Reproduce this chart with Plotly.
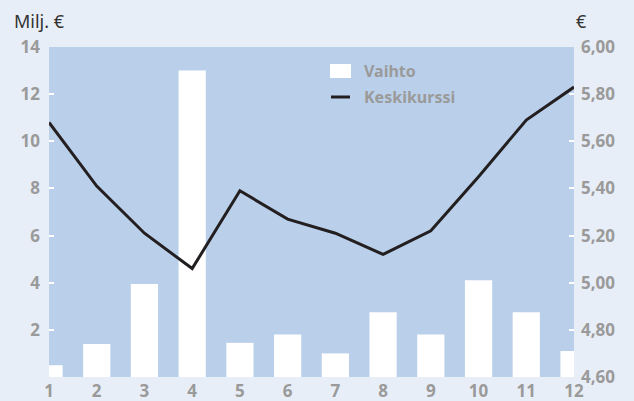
import plotly.graph_objects as go

months = [1, 2, 3, 4, 5, 6, 7, 8, 9, 10, 11, 12]
vaihto = [0.5, 1.4, 3.95, 13.0, 1.45, 1.8, 1.0, 2.75, 1.8, 4.1, 2.75, 1.1]
keskikurssi = [5.68, 5.41, 5.21, 5.06, 5.39, 5.27, 5.21, 5.12, 5.22, 5.45, 5.69, 5.83]
left_ticks = [2, 4, 6, 8, 10, 12, 14]
right_ticks = [4.6, 4.8, 5.0, 5.2, 5.4, 5.6, 5.8, 6.0]
legend_names = ["Vaihto", "Keskikurssi"]

FONT = "Noto Sans"
tick_font = dict(family=FONT, size=17, color="#9a9a9a", weight="bold")

fig = go.Figure()
fig.add_trace(go.Bar(x=months, y=vaihto, name=legend_names[0], marker=dict(color="white", line=dict(width=0)),
                     width=0.57, yaxis="y", showlegend=False))
fig.add_trace(go.Scatter(x=months, y=keskikurssi, name=legend_names[1], mode="lines",
                         line=dict(color="#231f20", width=3), yaxis="y2", showlegend=False))

L, R, T, B = 49, 60, 47, 24
pw, ph = 634 - L - R, 401 - T - B


def px(x):
    return (x - L) / pw


def py(y):
    return (401 - B - y) / ph


shapes = [
    dict(type="rect", xref="paper", yref="paper", x0=px(330), x1=px(351), y0=py(78), y1=py(64),
         fillcolor="white", line=dict(width=0)),
    dict(type="line", xref="paper", yref="paper", x0=px(331), x1=px(350), y0=py(97), y1=py(97),
         line=dict(color="#231f20", width=3)),
]

annotations = [
    dict(text="Milj. €", x=px(12), y=py(21), xref="paper", yref="paper",
         xanchor="left", yanchor="middle", showarrow=False,
         font=dict(family=FONT, size=18, color="#333333")),
    dict(text="€", x=px(574), y=py(21), xref="paper", yref="paper",
         xanchor="left", yanchor="middle", showarrow=False,
         font=dict(family=FONT, size=18, color="#333333")),
    dict(text=legend_names[0], x=px(362), y=py(71), xref="paper", yref="paper",
         xanchor="left", yanchor="middle", showarrow=False,
         font=dict(family=FONT, size=16, color="#9a9a9a", weight="bold")),
    dict(text=legend_names[1], x=px(362), y=py(97), xref="paper", yref="paper",
         xanchor="left", yanchor="middle", showarrow=False,
         font=dict(family=FONT, size=16, color="#9a9a9a", weight="bold")),
]

fig.update_layout(
    width=634, height=401,
    margin=dict(l=L, r=R, t=T, b=B, autoexpand=False),
    paper_bgcolor="#e8eef7",
    plot_bgcolor="#bad0ea",
    separators=", ",
    showlegend=False,
    xaxis=dict(range=[1, 12], tickvals=months, showgrid=False, zeroline=False,
               tickfont=tick_font, ticks="", showline=False, automargin=False,
               ticklabelstandoff=2),
    yaxis=dict(range=[0, 14], tickvals=left_ticks, showgrid=False, zeroline=False,
               ticks="inside", ticklen=5, tickcolor="white", tickwidth=2,
               tickfont=tick_font, ticklabelstandoff=8, automargin=False),
    yaxis2=dict(range=[4.6, 6.0], tickvals=right_ticks, tickformat=".2f", overlaying="y", side="right",
                showgrid=False, zeroline=False, ticks="inside", ticklen=5, tickcolor="white", tickwidth=2,
                tickfont=tick_font, ticklabelstandoff=6, automargin=False),
    shapes=shapes,
    annotations=annotations,
)

fig.write_html("out.html", config={"displayModeBar": False},
               post_script="document.body.style.margin='0';")
